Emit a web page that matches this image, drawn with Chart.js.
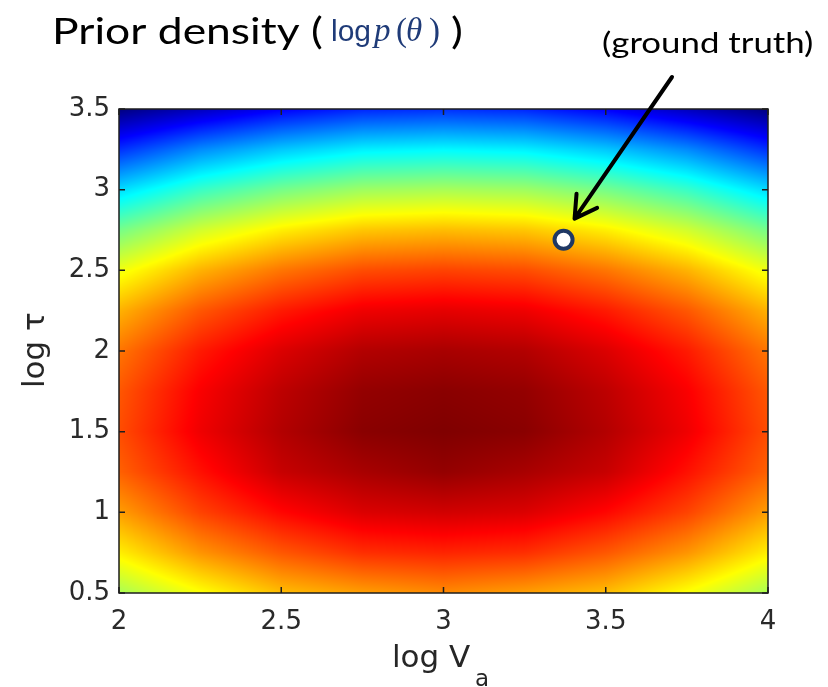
<!DOCTYPE html>
<html>
<head>
<meta charset="utf-8">
<script src="https://cdn.jsdelivr.net/npm/chart.js@4.4.1/dist/chart.umd.min.js"></script>
<style>
  body { margin: 0; background: #fff; }
  #wrap { position: relative; width: 828px; height: 687px; }
</style>
</head>
<body>
<div id="wrap"><canvas id="prior" width="828" height="687"></canvas></div>
<script>
// grid of log V_a (columns) and log tau (rows)
const logVa = [2, 2.25, 2.5, 2.75, 3, 3.25, 3.5, 3.75, 4];
const logTau = [0.5, 0.75, 1, 1.25, 1.5, 1.75, 2, 2.25, 2.5, 2.75, 3, 3.25, 3.5];

// prior log density, scaled to the colour range [0, 1], one row per logTau value
const density = [
  [0.54, 0.62, 0.69, 0.72, 0.74, 0.72, 0.69, 0.62, 0.54],
  [0.64, 0.73, 0.79, 0.83, 0.84, 0.83, 0.79, 0.73, 0.64],
  [0.72, 0.81, 0.87, 0.91, 0.92, 0.91, 0.87, 0.81, 0.72],
  [0.78, 0.86, 0.93, 0.96, 0.98, 0.96, 0.93, 0.86, 0.78],
  [0.80, 0.89, 0.95, 0.99, 1.00, 0.99, 0.95, 0.89, 0.80],
  [0.79, 0.88, 0.94, 0.98, 0.99, 0.98, 0.94, 0.88, 0.79],
  [0.76, 0.85, 0.91, 0.95, 0.96, 0.95, 0.91, 0.85, 0.76],
  [0.70, 0.79, 0.85, 0.89, 0.90, 0.89, 0.85, 0.79, 0.70],
  [0.61, 0.70, 0.76, 0.80, 0.81, 0.80, 0.76, 0.70, 0.61],
  [0.49, 0.58, 0.64, 0.68, 0.69, 0.68, 0.64, 0.58, 0.49],
  [0.34, 0.43, 0.49, 0.53, 0.54, 0.53, 0.49, 0.43, 0.34],
  [0.17, 0.26, 0.32, 0.36, 0.37, 0.36, 0.32, 0.26, 0.17],
  [0.00, 0.06, 0.12, 0.16, 0.17, 0.16, 0.12, 0.06, 0.00]
];

const xTicks = [2, 2.5, 3, 3.5, 4];
const yTicks = [0.5, 1, 1.5, 2, 2.5, 3, 3.5];

const groundTruth = { x: 3.37, y: 2.69 };

function clamp01(v) { return Math.max(0, Math.min(1, v)); }

// matlab style jet colormap
function jet(v) {
  v = clamp01(v);
  const r = clamp01(Math.min(4 * v - 1.5, -4 * v + 4.5));
  const g = clamp01(Math.min(4 * v - 0.5, -4 * v + 3.5));
  const b = clamp01(Math.min(4 * v + 0.5, -4 * v + 2.5));
  return [r * 255, g * 255, b * 255];
}

function cellIndex(arr, v) {
  let i = 0;
  while (i < arr.length - 2 && v > arr[i + 1]) i++;
  const t = clamp01((v - arr[i]) / (arr[i + 1] - arr[i]));
  return [i, t];
}

// smooth shading between grid nodes (like shading interp)
function shade(xv, yv) {
  const [i, tx] = cellIndex(logVa, xv);
  const [j, ty] = cellIndex(logTau, yv);
  const a = density[j][i] * (1 - tx) + density[j][i + 1] * tx;
  const b = density[j + 1][i] * (1 - tx) + density[j + 1][i + 1] * tx;
  return a * (1 - ty) + b * ty;
}

const heatmap = {
  id: 'heatmap',
  beforeDatasetsDraw(chart) {
    const { ctx, chartArea: area, scales } = chart;
    const w = Math.round(area.right - area.left);
    const h = Math.round(area.bottom - area.top);
    const off = document.createElement('canvas');
    off.width = w;
    off.height = h;
    const octx = off.getContext('2d');
    const img = octx.createImageData(w, h);
    for (let j = 0; j < h; j++) {
      const yv = scales.y.getValueForPixel(area.top + j + 0.5);
      for (let i = 0; i < w; i++) {
        const xv = scales.x.getValueForPixel(area.left + i + 0.5);
        const c = jet(shade(xv, yv));
        const k = (j * w + i) * 4;
        img.data[k] = c[0];
        img.data[k + 1] = c[1];
        img.data[k + 2] = c[2];
        img.data[k + 3] = 255;
      }
    }
    octx.putImageData(img, 0, 0);
    ctx.drawImage(off, area.left, area.top, w, h);

    // axes box with inward ticks
    ctx.save();
    ctx.strokeStyle = '#1e1e1e';
    ctx.lineWidth = 1.5;
    ctx.strokeRect(area.left, area.top, area.right - area.left, area.bottom - area.top);
    ctx.beginPath();
    xTicks.forEach(t => {
      const px = scales.x.getPixelForValue(t);
      ctx.moveTo(px, area.bottom); ctx.lineTo(px, area.bottom - 6);
      ctx.moveTo(px, area.top); ctx.lineTo(px, area.top + 6);
    });
    yTicks.forEach(t => {
      const py = scales.y.getPixelForValue(t);
      ctx.moveTo(area.left, py); ctx.lineTo(area.left + 6, py);
      ctx.moveTo(area.right, py); ctx.lineTo(area.right - 6, py);
    });
    ctx.stroke();
    ctx.restore();
  }
};

const labels = {
  id: 'labels',
  afterDraw(chart) {
    const { ctx, scales } = chart;
    ctx.save();
    ctx.textAlign = 'left';
    ctx.textBaseline = 'alphabetic';

    // title
    ctx.fillStyle = '#000';
    ctx.font = '37px Lato';
    ctx.save();
    ctx.translate(52, 44);
    ctx.scale(1.2, 1);
    ctx.fillText('Prior density (', 0, 0);
    ctx.restore();
    ctx.save();
    ctx.translate(451, 44);
    ctx.scale(1.2, 1);
    ctx.fillText(')', 0, 0);
    ctx.restore();

    ctx.fillStyle = '#1f3b78';
    ctx.font = '30px "Liberation Sans"';
    ctx.fillText('log', 331, 41);
    ctx.font = 'italic 33px "Liberation Serif"';
    ctx.fillText('p', 374, 41);
    ctx.fillText('θ', 406, 41);
    ctx.font = '33px "Liberation Serif"';
    ctx.fillText('(', 396, 41);
    ctx.fillText(')', 429, 41);

    // annotation
    ctx.fillStyle = '#000';
    ctx.font = '29px Lato';
    ctx.save();
    ctx.translate(602, 53);
    ctx.scale(1.2, 1);
    ctx.fillText('(ground truth)', 0, 0);
    ctx.restore();

    const mx = scales.x.getPixelForValue(groundTruth.x);
    const my = scales.y.getPixelForValue(groundTruth.y);
    const tip = [mx + 11, my - 21];
    const start = [672, 77];
    const dx = start[0] - tip[0], dy = start[1] - tip[1];
    const len = Math.hypot(dx, dy);
    const ux = dx / len, uy = dy / len;
    const ang = Math.PI / 6, head = 25;
    ctx.strokeStyle = '#000';
    ctx.lineWidth = 4;
    ctx.lineCap = 'round';
    ctx.lineJoin = 'round';
    ctx.beginPath();
    ctx.moveTo(start[0], start[1]);
    ctx.lineTo(tip[0], tip[1]);
    ctx.moveTo(tip[0] + head * (ux * Math.cos(ang) - uy * Math.sin(ang)),
               tip[1] + head * (ux * Math.sin(ang) + uy * Math.cos(ang)));
    ctx.lineTo(tip[0], tip[1]);
    ctx.lineTo(tip[0] + head * (ux * Math.cos(-ang) - uy * Math.sin(-ang)),
               tip[1] + head * (ux * Math.sin(-ang) + uy * Math.cos(-ang)));
    ctx.stroke();

    // axis titles
    ctx.fillStyle = '#262626';
    ctx.font = '31px "DejaVu Sans"';
    ctx.fillText('log V', 392, 667);
    ctx.font = '23px "DejaVu Sans"';
    ctx.fillText('a', 475, 686);
    ctx.font = '31px "DejaVu Sans"';
    ctx.translate(44, 388);
    ctx.rotate(-Math.PI / 2);
    ctx.fillText('log τ', 0, 0);
    ctx.restore();
  }
};

const tickFont = { family: 'DejaVu Sans', size: 26 };
const plainNumber = value => String(value);

new Chart(document.getElementById('prior'), {
  type: 'scatter',
  data: {
    datasets: [{
      data: [groundTruth],
      pointRadius: 9,
      pointHoverRadius: 9,
      borderWidth: 4,
      borderColor: '#1f3864',
      backgroundColor: '#ffffff'
    }]
  },
  options: {
    responsive: false,
    animation: false,
    events: [],
    layout: { padding: { top: 109, right: 60, left: 0, bottom: 0 } },
    plugins: { legend: { display: false }, tooltip: { enabled: false } },
    scales: {
      x: {
        type: 'linear', min: 2, max: 4,
        afterFit(scale) { scale.height = 94; },
        afterBuildTicks(scale) { scale.ticks = xTicks.map(v => ({ value: v })); },
        grid: { display: false, drawTicks: false },
        border: { display: false },
        ticks: { font: tickFont, color: '#2a2a2a', padding: 14, maxRotation: 0, callback: plainNumber }
      },
      y: {
        type: 'linear', min: 0.5, max: 3.5,
        afterFit(scale) { scale.width = 119; },
        afterBuildTicks(scale) { scale.ticks = yTicks.map(v => ({ value: v })); },
        grid: { display: false, drawTicks: false },
        border: { display: false },
        ticks: { font: tickFont, color: '#2a2a2a', padding: 9, callback: plainNumber }
      }
    }
  },
  plugins: [heatmap, labels]
});
</script>
</body>
</html>
